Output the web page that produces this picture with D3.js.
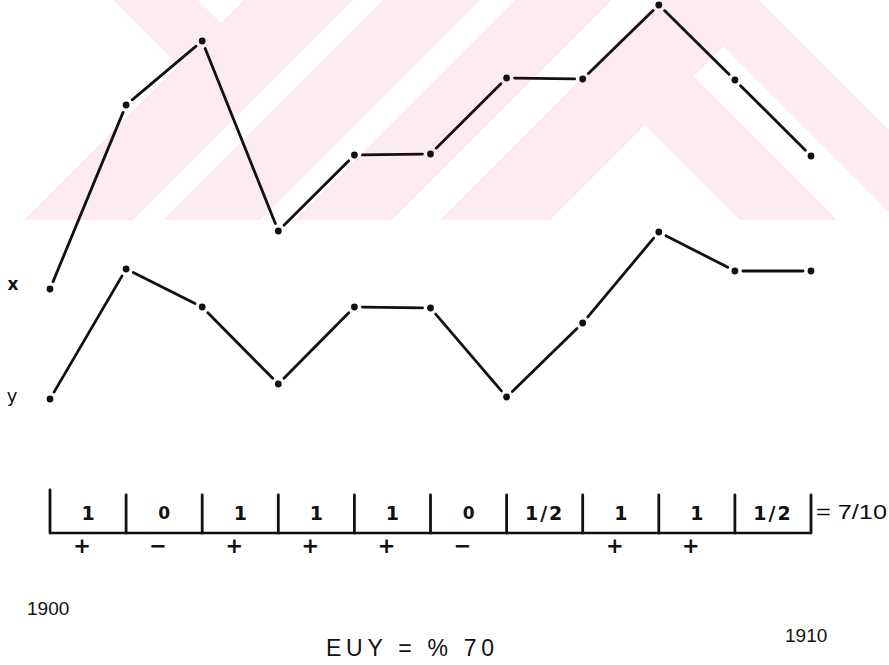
<!DOCTYPE html>
<html>
<head>
<meta charset="utf-8">
<script src="https://cdn.jsdelivr.net/npm/d3@7"></script>
<style>
  html, body { margin: 0; padding: 0; background: #ffffff; }
  svg { display: block; }
</style>
</head>
<body>
<div id="chart"></div>
<script>
// ---------------- data ----------------
const years = [1900, 1901, 1902, 1903, 1904, 1905, 1906, 1907, 1908, 1909, 1910];
const seriesX = [111, 295, 359, 169, 245, 246, 322, 321, 395, 320, 244];
const seriesY = [1, 131, 93, 16, 93, 92, 3, 77, 168, 129, 129];
const seriesNames = ["x", "y"];
const cellValues = ["1", "0", "1", "1", "1", "0", "1/2", "1", "1", "1/2"];
const cellSigns = ["+", "\u2212", "+", "+", "+", "\u2212", "", "+", "+", ""];
const totalLabel = "= 7/10";
const yearLabels = ["1900", "1910"];
const footLabel = "EUY = % 70";

// decorative watermark bands (u = x + y, v = x - y)
const wmBandsU = [[244, 353], [383, 480], [515, 612]];

// ---------------- setup ----------------
const W = 889, H = 665;
const svg = d3.select("#chart").append("svg")
  .attr("width", W).attr("height", H)
  .attr("viewBox", `0 0 ${W} ${H}`);

const x = d3.scaleLinear().domain([1900, 1910]).range([50, 811]);
const y = d3.scaleLinear().domain([0, 400]).range([400, 0]);

// ---------------- watermark ----------------
const pink = "#fdebef";
const defs = svg.append("defs");
defs.append("clipPath").attr("id", "wmclip")
  .append("rect").attr("x", 0).attr("y", 0).attr("width", W).attr("height", 220);
const wm = svg.append("g").attr("clip-path", "url(#wmclip)");
const y0 = -10, y1 = 230;
const bandPoly = ([a, b]) => [[a - y0, y0], [b - y0, y0], [b - y1, y1], [a - y1, y1]];
const polys = wmBandsU.map(bandPoly);
const vuCorner = (v, u) => [(u + v) / 2, (u - v) / 2];
polys.push([[113 + y0, y0], [198 + y0, y0], vuCorner(198, 353), vuCorner(113, 353)]);
polys.push([[660 - y0, y0], [759 + y0, y0], vuCorner(759, 770), [770 - y1, y1], [660 - y1, y1]]);
[[520, 617], [677, 759]].forEach(([a, b]) => {
  polys.push([vuCorner(a, 770), vuCorner(b, 770), [b + y1, y1], [a + y1, y1]]);
});
wm.selectAll("polygon").data(polys).join("polygon")
  .attr("points", d => d.map(p => p.join(",")).join(" "))
  .attr("fill", pink);

// ---------------- lines ----------------
const ink = "#111111";
const gap = 8;
function drawSeries(vals) {
  const pts = vals.map((v, i) => [x(years[i]), y(v)]);
  const segs = d3.pairs(pts).map(([a, b]) => {
    const dx = b[0] - a[0], dy = b[1] - a[1];
    const L = Math.hypot(dx, dy);
    const ux = dx / L, uy = dy / L;
    return [a[0] + ux * gap, a[1] + uy * gap, b[0] - ux * gap, b[1] - uy * gap];
  });
  const g = svg.append("g");
  g.selectAll("line").data(segs).join("line")
    .attr("x1", d => d[0]).attr("y1", d => d[1])
    .attr("x2", d => d[2]).attr("y2", d => d[3])
    .attr("stroke", ink).attr("stroke-width", 2.8)
    .attr("stroke-linecap", "round");
  g.selectAll("circle").data(pts).join("circle")
    .attr("cx", d => d[0]).attr("cy", d => d[1])
    .attr("r", 3.4).attr("fill", ink);
}
drawSeries(seriesX);
drawSeries(seriesY);

// series labels
svg.append("text").attr("x", 13).attr("y", y(seriesX[0]) - 4)
  .attr("font-family", "DejaVu Sans, sans-serif").attr("font-size", 17)
  .attr("font-weight", "bold")
  .attr("text-anchor", "middle").attr("dominant-baseline", "middle")
  .attr("fill", ink).text(seriesNames[0]);
svg.append("text").attr("x", 12).attr("y", y(seriesY[0]) - 2)
  .attr("font-family", "DejaVu Sans, sans-serif").attr("font-size", 18)
  .attr("text-anchor", "middle").attr("dominant-baseline", "middle")
  .attr("fill", ink).text(seriesNames[1]);

// ---------------- score row ----------------
const rowBase = 533, rowTop = 495;
const row = svg.append("g");
row.append("line")
  .attr("x1", x(years[0])).attr("x2", x(years[years.length - 1]))
  .attr("y1", rowBase).attr("y2", rowBase)
  .attr("stroke", ink).attr("stroke-width", 2.6);
row.selectAll("line.tick").data(years).join("line").attr("class", "tick")
  .attr("x1", d => x(d)).attr("x2", d => x(d))
  .attr("y1", (d, i) => i === 0 ? rowTop - 5 : rowTop).attr("y2", rowBase)
  .attr("stroke", ink).attr("stroke-width", 2.8).attr("stroke-linecap", "round");

const mid = i => (x(years[i]) + x(years[i + 1])) / 2;
row.selectAll("text.val").data(cellValues).join("text").attr("class", "val")
  .attr("x", (d, i) => mid(i)).attr("y", 514)
  .attr("text-anchor", "middle").attr("dominant-baseline", "middle")
  .attr("font-family", "DejaVu Sans, sans-serif").attr("font-weight", "bold")
  .attr("font-size", d => d === "0" ? 17 : 19)
  .attr("letter-spacing", d => d.length > 1 ? 2 : 0)
  .attr("fill", ink).text(d => d);
row.selectAll("text.sign").data(cellSigns).join("text").attr("class", "sign")
  .attr("x", (d, i) => mid(i) - 6).attr("y", 547)
  .attr("text-anchor", "middle").attr("dominant-baseline", "middle")
  .attr("font-family", "DejaVu Sans, sans-serif").attr("font-weight", "bold")
  .attr("font-size", 21)
  .attr("fill", ink).text(d => d);
row.append("text").attr("x", 816).attr("y", 514)
  .attr("dominant-baseline", "middle")
  .attr("font-family", "Liberation Sans, sans-serif").attr("font-size", 20)
  .attr("textLength", 71).attr("lengthAdjust", "spacingAndGlyphs")
  .attr("fill", ink).text(totalLabel);

// ---------------- year labels ----------------
svg.append("text").attr("x", 27).attr("y", 610)
  .attr("dominant-baseline", "middle")
  .attr("font-family", "Liberation Sans Narrow, Liberation Sans, sans-serif").attr("font-size", 19)
  .attr("fill", ink).text(yearLabels[0]);
svg.append("text").attr("x", 785).attr("y", 637)
  .attr("dominant-baseline", "middle")
  .attr("font-family", "Liberation Sans Narrow, Liberation Sans, sans-serif").attr("font-size", 19)
  .attr("fill", ink).text(yearLabels[1]);

// ---------------- foot label ----------------
svg.append("text").attr("x", 326).attr("y", 650)
  .attr("dominant-baseline", "middle")
  .attr("font-family", "Liberation Sans, sans-serif").attr("font-size", 23)
  .attr("textLength", 168).attr("lengthAdjust", "spacing")
  .attr("fill", ink).text(footLabel);
</script>
</body>
</html>
